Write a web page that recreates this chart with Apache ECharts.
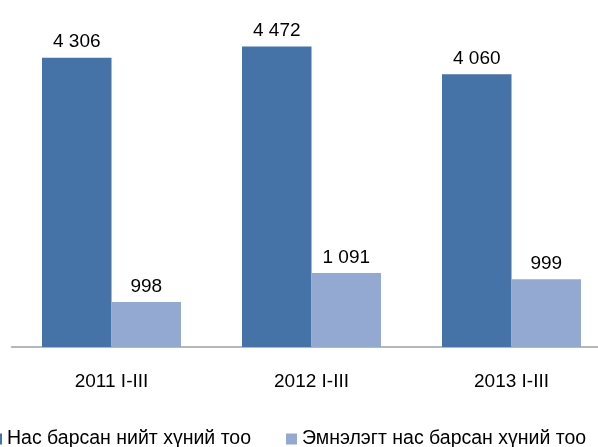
<!DOCTYPE html>
<html>
<head>
<meta charset="utf-8">
<script src="https://cdn.jsdelivr.net/npm/echarts@6/dist/echarts.min.js"></script>
<style>
  html, body { margin: 0; padding: 0; background: #fff; }
  #chart { width: 598px; height: 447px; }
</style>
</head>
<body>
<div id="chart"></div>
<script>
// periods
var categories = ['2011 I-III', '2012 I-III', '2013 I-III'];
var seriesNames = ['Нас барсан нийт хүний тоо', 'Эмнэлэгт нас барсан хүний тоо'];
// bar heights
var totalValues = [4306, 4472, 4060];
var hospitalValues = [670, 1100, 1010];
// printed data labels
var totalLabels = ['4 306', '4 472', '4 060'];
var hospitalLabels = ['998', '1 091', '999'];

var chart = echarts.init(document.getElementById('chart'));
var font = 'Liberation Sans, Arial, sans-serif';

chart.setOption({
  backgroundColor: '#fff',
  animation: false,
  grid: { left: 11.5, width: 600, top: 11, bottom: 100, outerBoundsMode: 'none' },
  legend: [
    {
      data: [seriesNames[0]],
      left: -9, top: 429, padding: 0,
      icon: 'rect', itemWidth: 11, itemHeight: 11,
      textStyle: { fontFamily: font, fontSize: 19.5, color: '#000' }
    },
    {
      data: [seriesNames[1]],
      left: 286, top: 429, padding: 0,
      icon: 'rect', itemWidth: 11, itemHeight: 11,
      textStyle: { fontFamily: font, fontSize: 19.5, color: '#000' }
    }
  ],
  xAxis: {
    type: 'category',
    data: categories,
    axisLine: { lineStyle: { color: '#a0a0a0', width: 1.5 } },
    axisTick: { show: false },
    axisLabel: { fontFamily: font, fontSize: 19, color: '#000', margin: 25 }
  },
  yAxis: {
    type: 'value',
    min: 0, max: 5000,
    show: false,
    splitLine: { show: false }
  },
  series: [
    {
      name: seriesNames[0],
      type: 'bar',
      data: totalValues,
      barGap: '0%',
      barCategoryGap: '30.5%',
      itemStyle: { color: '#4572a7' },
      label: {
        show: true, position: 'top', distance: 6,
        fontFamily: font, fontSize: 19, color: '#000',
        formatter: function (p) { return totalLabels[p.dataIndex]; }
      }
    },
    {
      name: seriesNames[1],
      type: 'bar',
      data: hospitalValues,
      itemStyle: { color: '#94a9d2' },
      label: {
        show: true, position: 'top', distance: 6,
        fontFamily: font, fontSize: 19, color: '#000',
        formatter: function (p) { return hospitalLabels[p.dataIndex]; }
      }
    }
  ]
});
</script>
</body>
</html>
